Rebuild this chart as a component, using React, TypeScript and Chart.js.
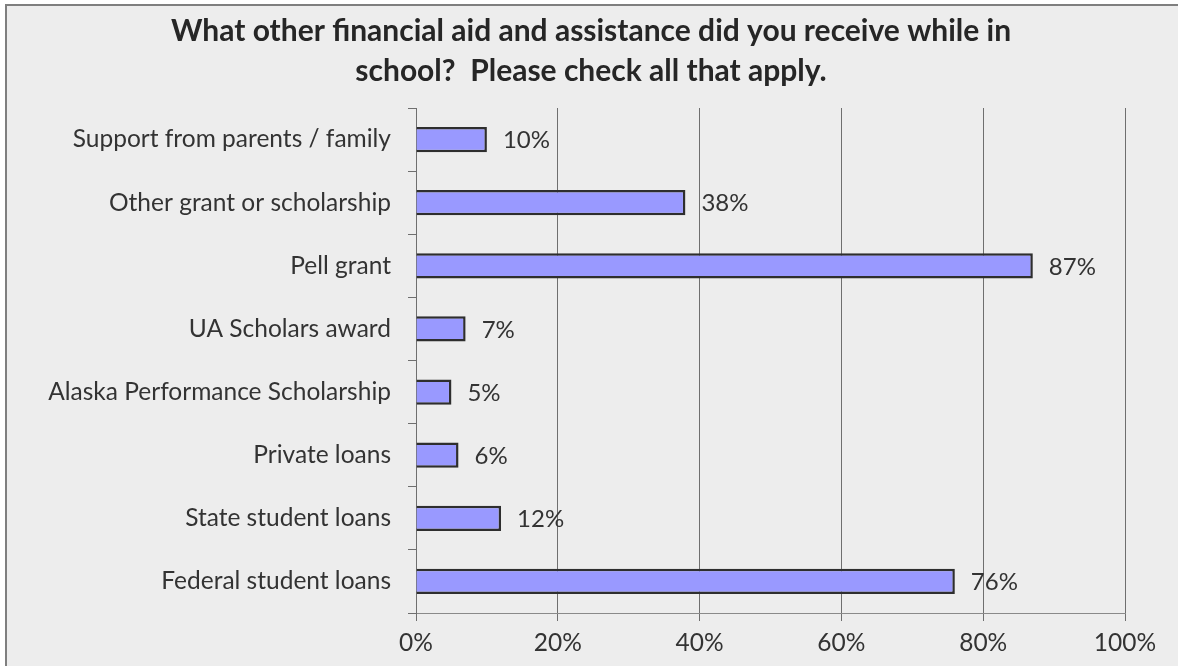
import React, { useEffect, useRef } from "react";
import { Chart, registerables } from "chart.js";

Chart.register(...registerables);

const titleLines = [
  "What other financial aid and assistance did you receive while in",
  "school?  Please check all that apply.",
];
const categories = [
  "Support from parents / family",
  "Other grant or scholarship",
  "Pell grant",
  "UA Scholars award",
  "Alaska Performance Scholarship",
  "Private loans",
  "State student loans",
  "Federal student loans",
];
const values = [10, 38, 87, 7, 5, 6, 12, 76];
const xTicks = [0, 20, 40, 60, 80, 100];

const FONT = "Lato, 'Open Sans', sans-serif";
const TEXT = "#333333";

const bgPlugin = {
  id: "bgPlugin",
  beforeDraw(chart: any) {
    const { ctx, width, height } = chart;
    ctx.save();
    ctx.fillStyle = "#ffffff";
    ctx.fillRect(0, 0, width, height);
    ctx.fillStyle = "#EDEDED";
    ctx.fillRect(6, 4, width + 20, height + 20);
    ctx.strokeStyle = "#7f7f7f";
    ctx.lineWidth = 2;
    ctx.strokeRect(6, 5, width + 20, height + 20);
    ctx.restore();
  },
  afterDraw(chart: any) {
    const { ctx } = chart;
    ctx.save();
    ctx.fillStyle = "#262626";
    ctx.font = `bold 30px ${FONT}`;
    ctx.textAlign = "center";
    ctx.textBaseline = "alphabetic";
    ctx.fillText(titleLines[0], 591, 41);
    ctx.fillText(titleLines[1], 591, 81);
    ctx.restore();
  },
};

const labelPlugin = {
  id: "labelPlugin",
  afterDatasetsDraw(chart: any) {
    const { ctx } = chart;
    const meta = chart.getDatasetMeta(0);
    ctx.save();
    ctx.fillStyle = TEXT;
    ctx.font = `24px ${FONT}`;
    ctx.textAlign = "left";
    ctx.textBaseline = "middle";
    meta.data.forEach((bar: any, i: number) => {
      ctx.fillText(`${values[i]}%`, bar.x + 16, bar.y + 1);
    });
    ctx.restore();
  },
};

export default function App() {
  const ref = useRef<HTMLCanvasElement>(null);
  useEffect(() => {
    if (!ref.current) return;
    const chart = new Chart(ref.current, {
      type: "bar",
      data: {
        labels: categories,
        datasets: [
          {
            data: values,
            backgroundColor: "#9999FF",
            borderColor: "#2e2e2e",
            borderWidth: 2.5,
            barPercentage: 0.4,
            categoryPercentage: 1,
          },
        ],
      },
      options: {
        indexAxis: "y",
        responsive: false,
        animation: false,
        layout: { padding: { top: 108, right: 53, left: 0, bottom: 0 } },
        plugins: {
          legend: { display: false },
          title: { display: false },
          tooltip: { enabled: false },
        },
        scales: {
          x: {
            min: 0,
            max: 100,
            afterFit(scale: any) {
              scale.height = 53;
            },
            afterBuildTicks(scale: any) {
              scale.ticks = xTicks.map((v) => ({ value: v }));
            },
            ticks: {
              callback: (v: any) => `${v}%`,
              color: TEXT,
              font: { family: FONT, size: 24.5 },
              padding: 7,
              maxRotation: 0,
            },
            grid: {
              color: "#6f6f6f",
              lineWidth: 1,
              tickLength: 8,
              drawOnChartArea: true,
            },
            border: { display: true, color: "#8a8a8a", width: 1 },
          },
          y: {
            afterFit(scale: any) {
              scale.width = 416;
            },
            ticks: {
              color: TEXT,
              font: { family: FONT, size: 24.5 },
              padding: 17,
            },
            grid: {
              offset: true,
              drawOnChartArea: false,
              drawTicks: true,
              tickLength: 8,
              color: "#6f6f6f",
            },
            border: { display: true, color: "#6f6f6f", width: 1 },
          },
        },
      },
      plugins: [bgPlugin, labelPlugin],
    });
    return () => chart.destroy();
  }, []);
  return (
    <div style={{ position: "fixed", left: 0, top: 0, width: 1178, height: 666 }}>
      <canvas ref={ref} width={1178} height={666} style={{ display: "block" }} />
    </div>
  );
}
